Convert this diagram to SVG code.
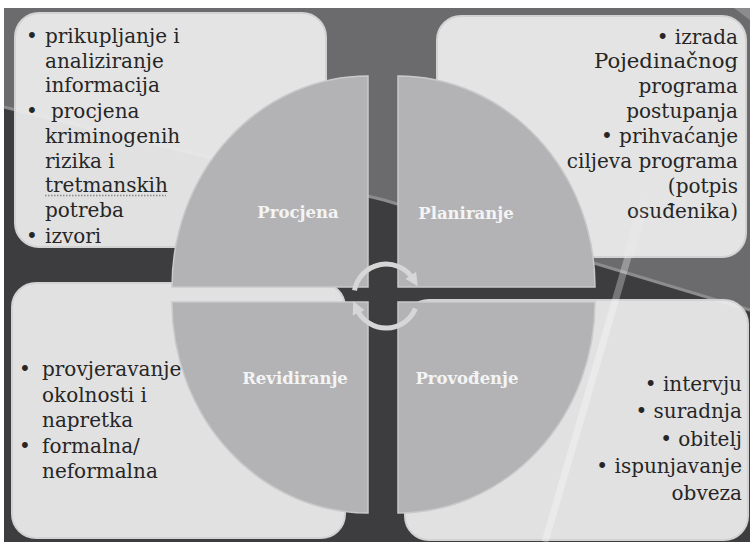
<svg xmlns="http://www.w3.org/2000/svg" width="750" height="542" viewBox="0 0 750 542">
<style>
.box{fill:#ececec;fill-opacity:0.94;stroke:#d2d2d2;stroke-width:2}
.seg{fill:#b3b3b5;stroke:#c9c9cb;stroke-width:1.5}
.t{font-family:"DejaVu Serif","Liberation Serif",serif;font-size:20px;fill:#262626}
.r{text-anchor:end}
.lbl{font-family:"DejaVu Serif","Liberation Serif",serif;font-size:16.5px;font-weight:bold;fill:#f4f4f4;text-anchor:middle}
.cyc{fill:none;stroke:#d6d6d6;stroke-width:5;marker-end:url(#ah)}
</style>
<defs>
<marker id="ah" viewBox="0 0 10 10" refX="3" refY="5" markerWidth="2.6" markerHeight="2.6" orient="auto"><path d="M0,0 L10,5 L0,10 z" fill="#d6d6d6"/></marker>
</defs>
<g id="background">
<rect width="750" height="542" fill="#ffffff"/>
<rect x="4" y="8" width="746" height="534" fill="#3d3d3f"/>
<path d="M4,8 H750 V310 L627,273 L384,200 L4,107 Z" fill="#6b6b6d"/>
<path d="M4,107 L384,200 L627,273 L750,310" fill="none" stroke="#8c8c8e" stroke-width="3"/>
<path d="M734,8 H750 V20 Z" fill="#8c8c8e"/>
</g>
<g id="box-procjena">
<rect class="box" x="15" y="13" width="311" height="234" rx="24"/>
<text class="t" x="26" y="43">•</text>
<text class="t" x="45" y="43">prikupljanje i</text>
<text class="t" x="45" y="68">analiziranje</text>
<text class="t" x="45" y="92">informacija</text>
<text class="t" x="26" y="118">•</text>
<text class="t" x="51" y="118">procjena</text>
<text class="t" x="45" y="143">kriminogenih</text>
<text class="t" x="45" y="168">rizika i</text>
<text class="t" x="45" y="192">tretmanskih</text>
<line x1="45" y1="195.5" x2="166" y2="195.5" stroke="#8a8a8a" stroke-width="1.5" stroke-dasharray="1.5 1.5"/>
<text class="t" x="45" y="217">potreba</text>
<text class="t" x="26" y="243">•</text>
<text class="t" x="45" y="243">izvori</text>
</g>
<g id="box-planiranje">
<rect class="box" x="437" y="16" width="309" height="241" rx="24"/>
<text class="t r" x="738" y="44">• izrada</text>
<text class="t r" x="738" y="68" textLength="144" lengthAdjust="spacingAndGlyphs">Pojedinačnog</text>
<text class="t r" x="738" y="93">programa</text>
<text class="t r" x="738" y="118">postupanja</text>
<text class="t r" x="738" y="143">• prihvaćanje</text>
<text class="t r" x="738" y="168">ciljeva programa</text>
<text class="t r" x="738" y="193">(potpis</text>
<text class="t r" x="738" y="218">osuđenika)</text>
</g>
<g id="box-revidiranje">
<rect class="box" x="12" y="283" width="333" height="255" rx="24"/>
<text class="t" x="19" y="376">•</text>
<text class="t" x="42" y="376">provjeravanje</text>
<text class="t" x="42" y="401.5">okolnosti i</text>
<text class="t" x="42" y="427">napretka</text>
<text class="t" x="19" y="452.5">•</text>
<text class="t" x="42" y="452.5">formalna/</text>
<text class="t" x="42" y="478">neformalna</text>
</g>
<g id="box-provodenje">
<rect class="box" x="405" y="300" width="343" height="240" rx="24"/>
<text class="t r" x="742" y="391">• intervju</text>
<text class="t r" x="742" y="418">• suradnja</text>
<text class="t r" x="742" y="446">• obitelj</text>
<text class="t r" x="742" y="473">• ispunjavanje</text>
<text class="t r" x="742" y="500">obveza</text>
</g>
<g id="streak">
<line x1="645" y1="200" x2="628" y2="257" stroke="#ffffff" stroke-opacity="0.12" stroke-width="10"/>
<line x1="628" y1="257" x2="545" y2="542" stroke="#ffffff" stroke-opacity="0.3" stroke-width="7"/>
</g>
<g id="seg-procjena">
<path class="seg" d="M368,287 H172 A196,211 0 0 1 368,76 Z"/>
<text class="lbl" x="298" y="218">Procjena</text>
</g>
<g id="seg-planiranje">
<path class="seg" d="M398,287 V76 A197,211 0 0 1 595,287 Z"/>
<text class="lbl" x="466" y="219">Planiranje</text>
</g>
<g id="seg-revidiranje">
<path class="seg" d="M368,302 V513 A196,211 0 0 1 172,302 Z"/>
<text class="lbl" x="295" y="384">Revidiranje</text>
</g>
<g id="seg-provodenje">
<path class="seg" d="M398,302 H595 A197,211 0 0 1 398,513 Z"/>
<text class="lbl" x="467" y="384">Provođenje</text>
</g>
<g id="connectors">
<path class="cyc" d="M354.5,290.4 A32,32 0 0 1 412.8,278.6"/>
<path class="cyc" d="M415.5,308.5 A32,32 0 0 1 357,309.5"/>
</g>
</svg>
